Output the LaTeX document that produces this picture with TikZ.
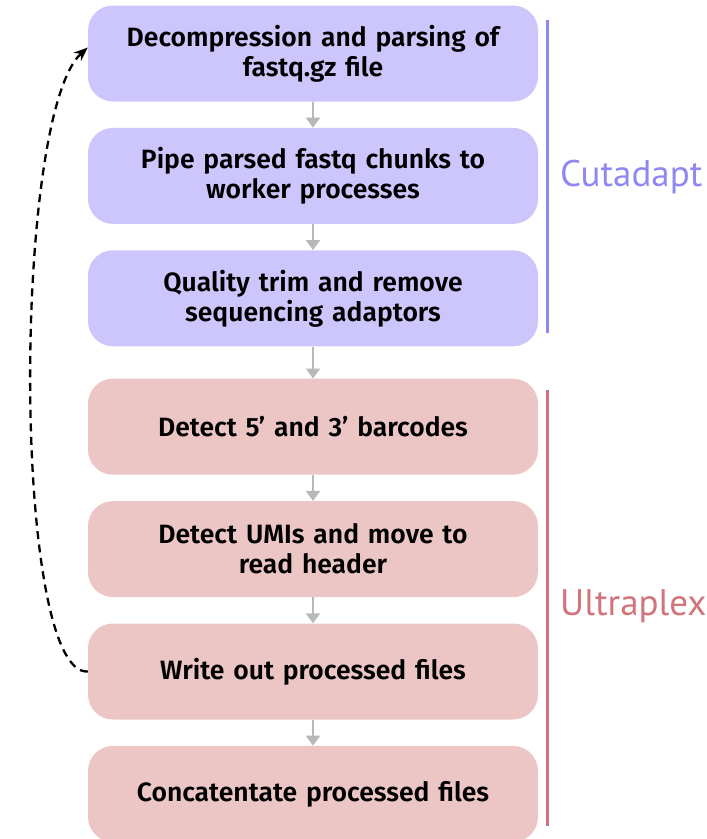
\documentclass[tikz,border=0pt]{standalone}
\usepackage{fontspec}
\setmainfont{PT Sans}
\newfontfamily\boxfont{Fira Sans SemiBold}
\newfontfamily\labelfont{PT Sans}
\usepackage{xcolor}
\usetikzlibrary{arrows.meta}
\usetikzlibrary{positioning}

\definecolor{cutfill}{HTML}{CCC6FC}
\definecolor{cutline}{HTML}{8F87F2}
\definecolor{ultrafill}{HTML}{ECC5C5}
\definecolor{ultraline}{HTML}{D27479}
\definecolor{flowgray}{HTML}{B8B8B8}

\begin{document}
\begin{tikzpicture}[x=1pt, y=1pt, node distance=26pt,
                step node/.style={rectangle, rounded corners=25pt, minimum width=450pt,
                  minimum height=96pt, text width=430pt, align=center,
                  font=\boxfont\fontsize{26.5}{30}\selectfont},
                cut node/.style={step node, fill=cutfill},
                ultra node/.style={step node, fill=ultrafill},
                tool label/.style={anchor=west, inner sep=0pt,
                  font=\labelfont\fontsize{37}{42}\selectfont},
                flow/.style={draw=flowgray, line width=2pt,
                  -{Triangle[width=14pt,length=10pt]}}]
  \useasboundingbox (0,0) rectangle (707,-839);

  \node[cut node] (1) at (313,-53.5) {Decompression and parsing of\\ fastq.gz file};
  \node[cut node] (2) [below=of 1] {Pipe parsed fastq chunks to\\ worker processes};
  \node[cut node] (3) [below=of 2] {Quality trim and remove\\ sequencing adaptors};
  \node[ultra node] (4) [below=32pt of 3] {Detect 5’ and 3’ barcodes};
  \node[ultra node] (5) [below=of 4] {Detect UMIs and move to\\ read header};
  \node[ultra node] (6) [below=of 5] {Write out processed files};
  \node[ultra node] (7) [below=of 6] {Concatentate processed files};

  \foreach \a/\b in {1/2, 2/3, 3/4, 4/5, 5/6, 6/7}
    \draw[flow] (\a) -- (\b);

  % loop back to the start
  \draw[line width=2.3pt, dash pattern=on 8pt off 5.5pt, -{Stealth[length=14pt,width=11pt]}]
    (6.west) .. controls (12,-676) and (12,-115) .. ([yshift=6pt]1.west);

  % tool brackets
  \coordinate (cut top) at (547,-20);
  \coordinate (cut bottom) at (547,-333);
  \coordinate (ultra top) at (547,-390);
  \coordinate (ultra bottom) at (547,-826);
  \draw[cutline, line width=3pt] (cut top) -- (cut bottom);
  \draw[ultraline, line width=3pt] (ultra top) -- (ultra bottom);
  \node[tool label, cutline] (cut label) at (560,-177) {Cutadapt};
  \node[tool label, ultraline] (ultra label) at (560,-606) {Ultraplex};
\end{tikzpicture}
\end{document}
